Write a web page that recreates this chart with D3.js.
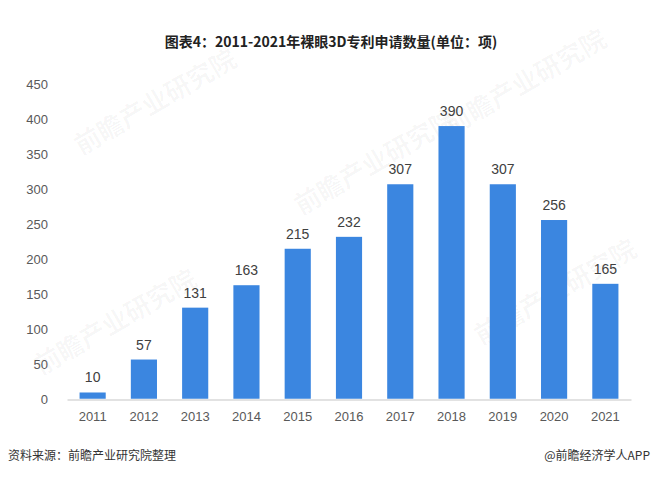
<!DOCTYPE html>
<html lang="zh">
<head>
<meta charset="UTF-8">
<title>裸眼3D专利申请数量</title>
<script src="https://d3js.org/d3.v7.min.js"></script>
<style>
  body { margin: 0; background: #fff; }
  svg text { font-family: "Liberation Sans", Arial, "Noto Sans CJK SC", sans-serif; }
</style>
</head>
<body>
<div id="chart"></div>
<script>
// data
const years = ["2011", "2012", "2013", "2014", "2015", "2016", "2017", "2018", "2019", "2020", "2021"];
const patents = [10, 57, 131, 163, 215, 232, 307, 390, 307, 256, 165];
const yTicks = [0, 50, 100, 150, 200, 250, 300, 350, 400, 450];

const width = 662, height = 478;
const svg = d3.select("#chart").append("svg")
    .attr("width", width)
    .attr("height", height);

svg.append("rect").attr("width", width).attr("height", height).attr("fill", "#fff");

// faint watermarks like the original
const marks = [[120, 330], [380, 170], [560, 300], [160, 110], [530, 90]];
marks.forEach(([mx, my]) => {
    svg.append("text")
        .attr("transform", `translate(${mx},${my}) rotate(-30)`)
        .attr("text-anchor", "middle")
        .style("font-family", "Noto Sans CJK SC, sans-serif")
        .style("font-size", "26px")
        .style("font-weight", "bold")
        .attr("fill", "#000")
        .attr("fill-opacity", 0.035)
        .text("前瞻产业研究院");
});

const x = d3.scaleBand().domain(years).range([67, 631]).paddingInner(0.49).paddingOuter(0.245);
const y = d3.scaleLinear().domain([0, 450]).range([399.5, 84]);

// title
svg.append("text")
    .attr("x", 331).attr("y", 47)
    .attr("text-anchor", "middle")
    .style("font-family", "Noto Sans CJK SC, sans-serif")
    .style("font-size", "14px")
    .style("font-weight", "bold")
    .attr("fill", "#222")
    .text("图表4：2011-2021年裸眼3D专利申请数量(单位：项)");

// y axis labels, no line
const yAxis = svg.append("g")
    .attr("transform", "translate(48,0)")
    .call(d3.axisLeft(y).tickValues(yTicks).tickSize(0).tickPadding(0));
yAxis.select(".domain").remove();
yAxis.selectAll("text")
    .style("font-size", "13px")
    .attr("fill", "#595959");

// x axis
const xAxis = svg.append("g")
    .attr("transform", `translate(0,${y(0)})`)
    .call(d3.axisBottom(x).tickSize(0).tickPadding(12));
xAxis.select(".domain").attr("stroke", "#d9d9d9").attr("stroke-width", 1.5);
xAxis.selectAll("text")
    .style("font-size", "13px")
    .attr("fill", "#595959");

// bars
svg.selectAll(".bar")
    .data(patents)
    .enter().append("rect")
    .attr("class", "bar")
    .attr("x", (d, i) => x(years[i]))
    .attr("width", x.bandwidth())
    .attr("y", d => y(d))
    .attr("height", d => y(0) - 0.75 - y(d))
    .attr("fill", "#3b86e0");

// value labels
svg.selectAll(".val")
    .data(patents)
    .enter().append("text")
    .attr("class", "val")
    .attr("x", (d, i) => x(years[i]) + x.bandwidth() / 2)
    .attr("y", d => y(d) - 10)
    .attr("text-anchor", "middle")
    .style("font-size", "14px")
    .attr("fill", "#404040")
    .text(d => d);

// footer
svg.append("text")
    .attr("x", 8).attr("y", 460)
    .style("font-family", "Noto Sans CJK SC, sans-serif")
    .style("font-size", "12px")
    .attr("fill", "#333")
    .text("资料来源：前瞻产业研究院整理");

svg.append("text")
    .attr("x", 650).attr("y", 460)
    .attr("text-anchor", "end")
    .style("font-family", "Noto Sans CJK SC, sans-serif")
    .style("font-size", "12px")
    .attr("fill", "#333")
    .text("@前瞻经济学人APP");
</script>
</body>
</html>
